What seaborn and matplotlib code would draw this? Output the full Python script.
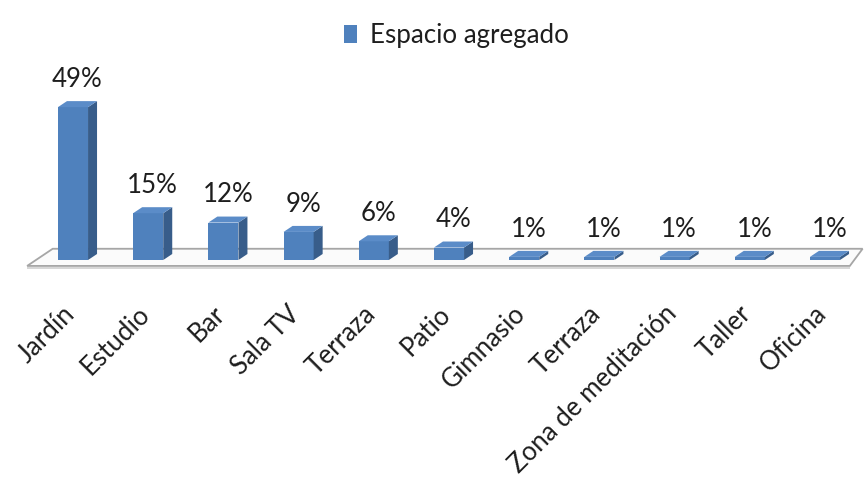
import numpy as np
import pandas as pd
import matplotlib
matplotlib.use("Agg")
import matplotlib.pyplot as plt
import seaborn as sns
from matplotlib.patches import Polygon, Patch
from matplotlib.transforms import blended_transform_factory

# Data
categories = ["Jardín", "Estudio", "Bar", "Sala TV", "Terraza", "Patio",
              "Gimnasio", "Terraza", "Zona de meditación", "Taller", "Oficina"]
values = [49, 15, 12, 9, 6, 4, 1, 1, 1, 1, 1]
series_name = "Espacio agregado"

# Colours of the 3-D column faces
FRONT = "#4F81BD"
SIDE = "#385D8A"
TOP = "#5B8CC8"
FLOOR_EDGE = "#A6A6A6"
TEXT = "#1E1E1E"
FS = 18.6

sns.set_theme(style="white")
plt.rcParams["font.family"] = ["Lato", "DejaVu Sans"]

W, H = 864, 479
fig = plt.figure(figsize=(W / 100, H / 100), dpi=100)
ax = fig.add_axes([0, (H - 280) / H, 1, 240 / H])

# scale: pixels per category step and per percent
px_x, px_y = 75.2, 3.12

df = pd.DataFrame({"pos": np.arange(len(values)), "value": values})
sns.barplot(data=df, x="pos", y="value", color=FRONT, saturation=1,
            width=0.4, linewidth=0, ax=ax, zorder=3)
ax.set_xlim(-73 / px_x, (W - 73) / px_x)
ax.set_ylim((260 - 280) / px_y, (260 - 40) / px_y)

# depth of the columns (data units)
dx, dy = 9 / px_x, 6 / px_y

# floor plane under the columns
fx0, fx1 = -0.61, 10.33
fy_front, fy_back = -1.9, 3.6
floor = Polygon([(fx0, fy_front), (fx1, fy_front),
                 (fx1 + 0.17, fy_back), (fx0 + 0.34, fy_back)],
                closed=True, facecolor="#FBFBFB", edgecolor=FLOOR_EDGE,
                linewidth=1.3, zorder=1)
ax.add_patch(floor)
ax.plot([fx0, fx1], [fy_front - 0.6, fy_front - 0.6], color="#D0D0D0",
        linewidth=1.2, zorder=1, solid_capstyle="butt")

# side and top faces of every column, with its value on top
for bar, v in zip(ax.patches[:len(values)], values):
    x0, w, h = bar.get_x(), bar.get_width(), bar.get_height()
    side = Polygon([(x0 + w, 0), (x0 + w + dx, dy), (x0 + w + dx, h + dy), (x0 + w, h)],
                   closed=True, facecolor=SIDE, edgecolor="none", zorder=4)
    top = Polygon([(x0, h), (x0 + w, h), (x0 + w + dx, h + dy), (x0 + dx, h + dy)],
                  closed=True, facecolor=TOP, edgecolor="none", zorder=4)
    ax.add_patch(side)
    ax.add_patch(top)
    ax.text(x0 + w / 2 + dx / 2, h + dy + 3.0, f"{v}%", ha="center", va="bottom",
            fontsize=FS, color=TEXT, zorder=5)

# rotated category labels
trans = blended_transform_factory(ax.transData, ax.transAxes)
for i, lab in enumerate(categories):
    ax.text(i - 0.03, -0.125, lab, transform=trans, rotation=45,
            rotation_mode="anchor", ha="right", va="center",
            fontsize=FS, color=TEXT)

ax.set_xticks([])
ax.set_yticks([])
ax.set_xlabel("")
ax.set_ylabel("")
for s in ax.spines.values():
    s.set_visible(False)
ax.patch.set_alpha(0)

fig.legend(handles=[Patch(facecolor=FRONT, edgecolor="none")], labels=[series_name],
           loc="upper center", bbox_to_anchor=(0.528, 1.0), frameon=False,
           fontsize=FS, handlelength=0.5, handleheight=0.7, handletextpad=0.5,
           labelcolor=TEXT)

fig.savefig("out.png", dpi=100)
